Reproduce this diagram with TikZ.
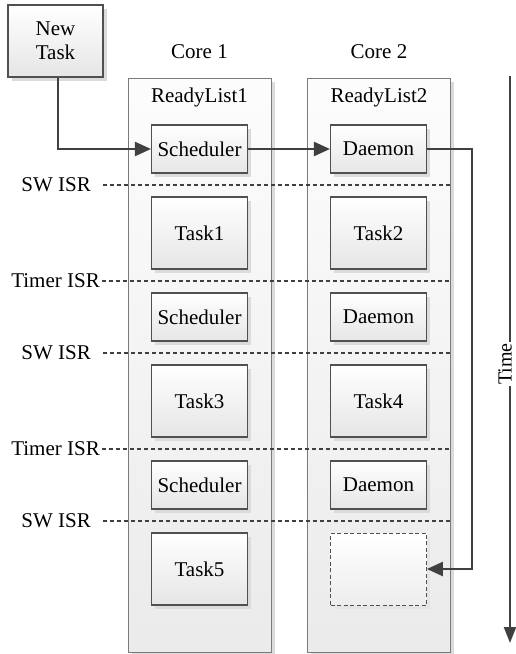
\documentclass[tikz,border=0pt]{standalone}
\usepackage{fontspec}
\setmainfont{Liberation Serif}
\usetikzlibrary{arrows.meta,shadows}
\definecolor{ink}{HTML}{404040}
\definecolor{boxline}{HTML}{505050}
\definecolor{colline}{HTML}{7A7A7A}
\begin{document}
\begin{tikzpicture}[x=1pt,y=-1pt,
  every node/.style={font=\fontsize{21}{23.5}\selectfont, text=black},
  shad/.style={drop shadow={shadow xshift=3.5pt,shadow yshift=-3.5pt,fill=black!14,opacity=1}},
  colbox/.style={draw=colline, line width=1pt, top color=black!1, bottom color=black!8, shad,
    minimum width=143pt, minimum height=574pt, inner sep=0pt},
  taskbox/.style={draw=boxline, line width=1.1pt, top color=white, bottom color=black!10, shad,
    minimum width=96pt, inner sep=0pt, align=center},
  shortbox/.style={taskbox, minimum height=48pt},
  tallbox/.style={taskbox, minimum height=72pt},
  emptybox/.style={draw=boxline, line width=0.8pt, dash pattern=on 4pt off 2.5pt, top color=white, bottom color=black!7,
    drop shadow={shadow xshift=3.5pt,shadow yshift=-3.5pt,fill=black!10,opacity=1},
    minimum width=96pt, minimum height=72pt, inner sep=0pt},
  isr/.style={draw=ink, line width=1.6pt, dash pattern=on 4pt off 3pt},
  conn/.style={draw=ink, line width=2.3pt, -{Triangle[length=16pt,width=14pt]}},
  lbl/.style={inner sep=0pt}
]
\useasboundingbox (0,0) rectangle (516,654);

% columns
\node[colbox] (c1) at (199.5,365) {};
\node[colbox] (c2) at (379,365) {};
\node[lbl] (core1) at (199.5,52) {Core 1};
\node[lbl] (core2) at (379,52) {Core 2};
\node[lbl] (rl1) at (199.5,97) {ReadyList1};
\node[lbl] (rl2) at (379,97) {ReadyList2};

% new task
\node[taskbox, minimum width=95pt, minimum height=72pt, inner sep=0pt, font=\fontsize{21}{24}\selectfont] (nt) at (55.5,41) {New\\Task};

% column 1
\node[shortbox] (s1) at (199.5,149) {Scheduler};
\node[tallbox]  (t1) at (199.5,233) {Task1};
\node[shortbox] (s2) at (199.5,317) {Scheduler};
\node[tallbox]  (t3) at (199.5,401) {Task3};
\node[shortbox] (s3) at (199.5,485) {Scheduler};
\node[tallbox]  (t5) at (199.5,569) {Task5};

% column 2
\node[shortbox] (d1) at (378.5,149) {Daemon};
\node[tallbox]  (t2) at (378.5,233) {Task2};
\node[shortbox] (d2) at (378.5,317) {Daemon};
\node[tallbox]  (t4) at (378.5,401) {Task4};
\node[shortbox] (d3) at (378.5,485) {Daemon};
\node[emptybox] (bl) at (378.5,569) {};

% ISR lines
\node[lbl, anchor=east] (sw1) at (91,185) {SW ISR};
\node[lbl, anchor=east] (tm1) at (100,281) {Timer ISR};
\node[lbl, anchor=east] (sw2) at (91,353) {SW ISR};
\node[lbl, anchor=east] (tm2) at (100,449) {Timer ISR};
\node[lbl, anchor=east] (sw3) at (91,521) {SW ISR};
\coordinate (a1) at (103,185); \coordinate (b1) at (451,185);
\coordinate (a2) at (102,281); \coordinate (b2) at (451,281);
\coordinate (a3) at (103,353); \coordinate (b3) at (451,353);
\coordinate (a4) at (102,449); \coordinate (b4) at (451,449);
\coordinate (a5) at (103,521); \coordinate (b5) at (451,521);
\foreach \i in {1,...,5} { \draw[isr] (a\i) -- (b\i); }

% connectors
\coordinate (ntd) at (58,149);
\draw[conn] ([xshift=2.5pt]nt.south) -- (ntd) -- (s1.west);
\draw[conn] (s1.east) -- (d1.west);
\coordinate (rt) at (472,149);
\draw[conn] (d1.east) -- (rt) |- (bl.east);

% time axis
\coordinate (tt) at (510,76);
\coordinate (tb) at (510,643);
\draw[draw=ink, line width=2.2pt, -{Triangle[length=16pt,width=12pt]}] (tt) -- (tb);
\node[fill=white, rotate=90, inner sep=1.5pt, font=\fontsize{20}{22}\selectfont] (time) at (505,364) {Time};
\end{tikzpicture}
\end{document}
